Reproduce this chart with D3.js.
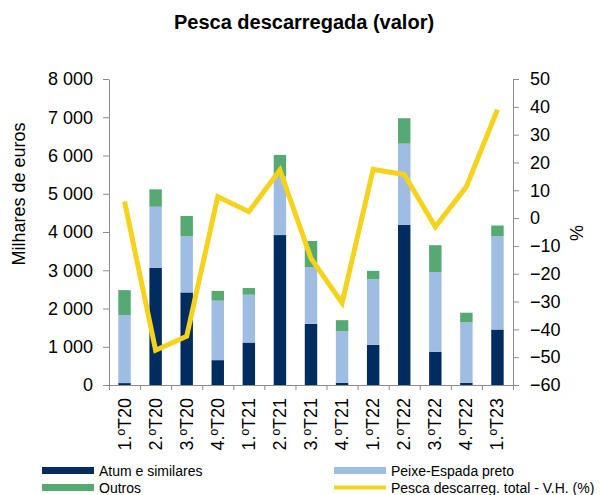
<!DOCTYPE html>
<html>
<head>
<meta charset="utf-8">
<style>
  body { margin: 0; background: #fff; }
  svg text { font-family: "Liberation Sans", Arial, sans-serif; fill: #000; }
  .axis path, .axis line { stroke: #8c8c8c; }
</style>
</head>
<body>
<svg id="chart" width="606" height="495"></svg>
<script src="https://cdn.jsdelivr.net/npm/d3@7"></script>
<script>
  // dados
  const trimestres = ["1.ºT20", "2.ºT20", "3.ºT20", "4.ºT20", "1.ºT21", "2.ºT21", "3.ºT21",
                      "4.ºT21", "1.ºT22", "2.ºT22", "3.ºT22", "4.ºT22", "1.ºT23"];
  const atum   = [50, 3060, 2420, 650, 1110, 3920, 1600, 60, 1050, 4190, 870, 60, 1450];
  const peixe  = [1780, 1600, 1475, 1555, 1250, 1530, 1485, 1350, 1720, 2120, 2085, 1580, 2440];
  const outros = [650, 455, 525, 255, 175, 565, 680, 285, 215, 665, 700, 250, 280];
  const varHomologa = [6, -47.5, -42.5, 7.7, 2.3, 17.3, -14.5, -30.5, 17.5, 15.7, -3.1, 11.3, 39];

  const ticksEsq = [0, 1000, 2000, 3000, 4000, 5000, 6000, 7000, 8000];
  const ticksDir = [-60, -50, -40, -30, -20, -10, 0, 10, 20, 30, 40, 50];

  const series = [
    { key: "atum", nome: "Atum e similares", cor: "#002c5f" },
    { key: "peixe", nome: "Peixe-Espada preto", cor: "#9fbde3" },
    { key: "outros", nome: "Outros", cor: "#56a971" }
  ];
  const corLinha = "#f5d21c";

  const svg = d3.select("#chart");
  const mEsq = 109, mDir = 513, mTopo = 79, mBase = 385;

  const linhas = trimestres.map((t, i) => ({ t, atum: atum[i], peixe: peixe[i], outros: outros[i] }));

  const x = d3.scaleBand().domain(trimestres).range([mEsq, mDir]).paddingInner(0.6).paddingOuter(0.3);
  const xIdx = d3.scaleLinear().domain([0, trimestres.length]).range([mEsq, mDir]);
  const yL = d3.scaleLinear().domain([0, 8000]).range([mBase, mTopo]);
  const yR = d3.scaleLinear().domain([-60, 50]).range([mBase, mTopo]);

  // barras empilhadas
  const stack = d3.stack().keys(series.map(s => s.key))(linhas);
  svg.append("g").selectAll("g")
    .data(stack)
    .join("g")
    .attr("fill", (d, i) => series[i].cor)
    .selectAll("rect")
    .data(d => d)
    .join("rect")
    .attr("x", d => x(d.data.t))
    .attr("width", x.bandwidth())
    .attr("y", d => yL(d[1]))
    .attr("height", d => yL(d[0]) - yL(d[1]));

  // eixos
  const fmt = d => d3.format(",")(d).replace(/,/g, " ");
  const gL = svg.append("g").attr("class", "axis").attr("transform", `translate(${mEsq},0)`)
    .call(d3.axisLeft(yL).tickValues(ticksEsq).tickFormat(fmt).tickSize(6).tickPadding(10).tickSizeOuter(0));
  gL.selectAll("text").style("font-size", "18px");

  const gR = svg.append("g").attr("class", "axis").attr("transform", `translate(${mDir},0)`)
    .call(d3.axisRight(yR).tickValues(ticksDir).tickSize(6).tickPadding(11).tickSizeOuter(0));
  gR.selectAll("text").style("font-size", "18px");

  svg.append("g").attr("class", "axis").attr("transform", `translate(0,${mBase})`)
    .call(d3.axisBottom(xIdx).tickValues(d3.range(trimestres.length + 1)).tickFormat("").tickSize(5).tickSizeOuter(0));

  svg.append("g").selectAll("text")
    .data(trimestres)
    .join("text")
    .attr("transform", d => `translate(${x(d) + x.bandwidth() / 2 + 6},398) rotate(-90)`)
    .attr("text-anchor", "end")
    .style("font-size", "18px")
    .text(d => d);

  // linha da variação homóloga
  const linha = d3.line()
    .x((d, i) => x(trimestres[i]) + x.bandwidth() / 2)
    .y(d => yR(d));
  svg.append("path")
    .datum(varHomologa)
    .attr("fill", "none")
    .attr("stroke", corLinha)
    .attr("stroke-width", 5)
    .attr("d", linha);

  // títulos
  svg.append("text").attr("x", 304).attr("y", 29).attr("text-anchor", "middle")
    .style("font-size", "20px").style("font-weight", "bold").text("Pesca descarregada (valor)");
  svg.append("text").attr("transform", "translate(25,194) rotate(-90)").attr("text-anchor", "middle")
    .style("font-size", "18px").text("Milhares de euros");
  svg.append("text").attr("transform", "translate(583,233) rotate(-90)").attr("text-anchor", "middle")
    .style("font-size", "18px").text("%");

  // legenda
  const legenda = [
    { nome: series[0].nome, cor: series[0].cor, x: 42, y: 470.5, tipo: "bar" },
    { nome: series[1].nome, cor: series[1].cor, x: 334, y: 470.5, tipo: "bar" },
    { nome: series[2].nome, cor: series[2].cor, x: 42, y: 487.5, tipo: "bar" },
    { nome: "Pesca descarreg. total - V.H. (%)", cor: corLinha, x: 334, y: 487.5, tipo: "line" }
  ];
  const lg = svg.append("g").selectAll("g").data(legenda).join("g")
    .attr("transform", d => `translate(${d.x},${d.y})`);
  lg.append("rect")
    .attr("x", 0).attr("width", 52)
    .attr("y", d => d.tipo === "bar" ? -3.5 : -2)
    .attr("height", d => d.tipo === "bar" ? 7 : 4)
    .attr("fill", d => d.cor);
  lg.append("text").attr("x", 57).attr("y", 5).style("font-size", "14px").text(d => d.nome);
</script>
</body>
</html>
